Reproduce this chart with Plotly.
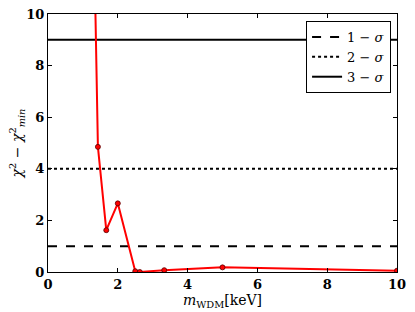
import plotly.graph_objects as go

m_wdm = [1.25, 1.43, 1.67, 2.0, 2.5, 2.63, 3.33, 5.0, 10.0]
dchi2 = [18.0, 4.85, 1.62, 2.66, 0.03, 0.0, 0.07, 0.18, 0.05]

sigma_levels = [1, 4, 9]
sigma_names = ["1 − <i>σ</i>", "2 − <i>σ</i>", "3 − <i>σ</i>"]
sigma_dash = ["dash", "dot", "solid"]

xticks = [0, 2, 4, 6, 8, 10]
yticks = [0, 2, 4, 6, 8, 10]

font = dict(family="DejaVu Serif", size=13, color="black")

fig = go.Figure()
for lvl, name, dash in zip(sigma_levels, sigma_names, sigma_dash):
    fig.add_trace(go.Scatter(
        x=[0, 10], y=[lvl, lvl], mode="lines", name=name,
        line=dict(color="black", width=2, dash=dash),
    ))
fig.add_trace(go.Scatter(
    x=m_wdm, y=dchi2, mode="lines+markers", showlegend=False,
    line=dict(color="red", width=2),
    marker=dict(color="red", size=5, line=dict(color="#550000", width=0.8)),
))

axis_common = dict(
    showgrid=False, zeroline=False, showline=True, linecolor="black",
    linewidth=1, mirror="allticks", ticks="inside", ticklen=4,
    tickcolor="black", automargin=False,
    tickfont=dict(family="DejaVu Serif", size=13, color="black"),
)
fig.update_xaxes(range=[0, 10], tickvals=xticks, ticktext=[f"<b>{t}</b>" for t in xticks],
                 title=dict(text="<i>m</i><sub>WDM</sub>[keV]", font=dict(family="DejaVu Serif", size=14), standoff=0),
                 **axis_common)
fig.update_yaxes(range=[0, 10], tickvals=yticks, ticktext=[f"<b>{t}</b>" for t in yticks],
                 title=dict(text="<i>χ</i><sup>2</sup> − <i>χ</i><sup>2</sup><sub><i>min</i></sub>", font=dict(family="DejaVu Serif", size=14), standoff=0),
                 **axis_common)
fig.update_layout(
    width=415, height=312,
    margin=dict(l=48, r=18, t=14, b=40),
    plot_bgcolor="white", paper_bgcolor="white",
    font=font,
    legend=dict(x=0.983, y=0.973, xanchor="right", yanchor="top",
                bgcolor="white", bordercolor="black", borderwidth=1,
                font=dict(family="DejaVu Serif", size=13), tracegroupgap=0),
)
fig.write_html("out.html", config={"displayModeBar": False},
               post_script="document.body.style.margin='0';document.body.style.overflow='hidden';")
